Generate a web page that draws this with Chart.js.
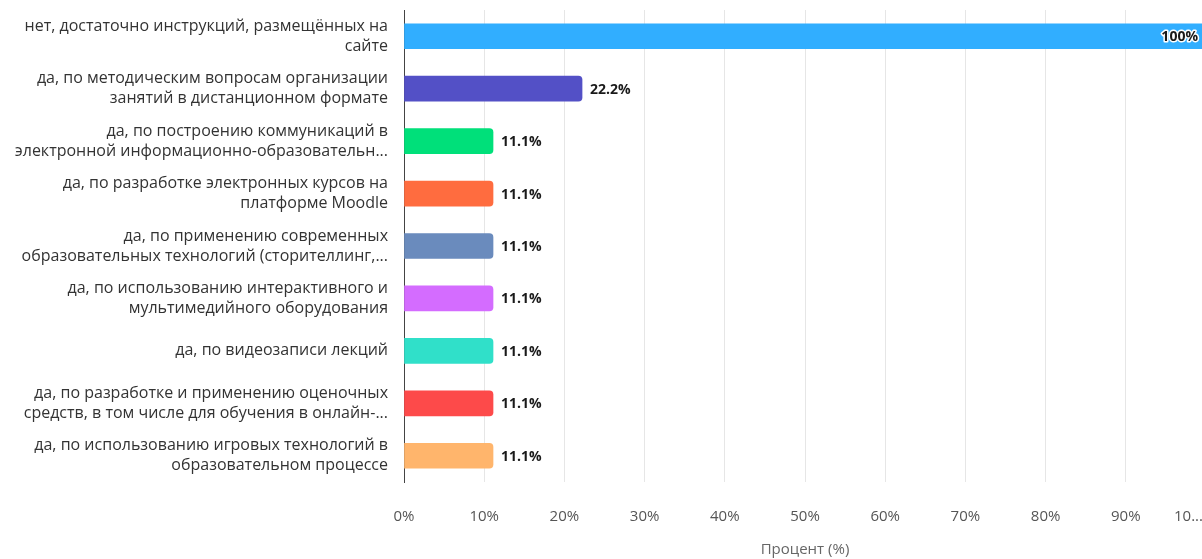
<!DOCTYPE html>
<html>
<head>
<meta charset="utf-8">
<script src="https://cdn.jsdelivr.net/npm/chart.js@4"></script>
<style>
    html, body { margin: 0; padding: 0; background: #fff; overflow: hidden; }
    .chart-box { width: 1206px; height: 559px; position: relative; }
</style>
</head>
<body>
<div class="chart-box"><canvas id="answersChart"></canvas></div>
<script>
// --- данные ---
const categories = [
    ['нет, достаточно инструкций, размещённых на', 'сайте'],
    ['да, по методическим вопросам организации', 'занятий в дистанционном формате'],
    ['да, по построению коммуникаций в', 'электронной информационно-образовательн...'],
    ['да, по разработке электронных курсов на', 'платформе Moodle'],
    ['да, по применению современных', 'образовательных технологий (сторителлинг,...'],
    ['да, по использованию интерактивного и', 'мультимедийного оборудования'],
    'да, по видеозаписи лекций',
    ['да, по разработке и применению оценочных', 'средств, в том числе для обучения в онлайн-...'],
    ['да, по использованию игровых технологий в', 'образовательном процессе']
];
const percentValues = [100, 22.2, 11.1, 11.1, 11.1, 11.1, 11.1, 11.1, 11.1];
const valueLabels = ['100%', '22.2%', '11.1%', '11.1%', '11.1%', '11.1%', '11.1%', '11.1%', '11.1%'];
const barColors = ['#31aeff', '#5350c6', '#00e07a', '#ff6c3f', '#6a8bbd', '#d46cff', '#30e0c9', '#fd4a4a', '#ffb56c'];
const xTickLabels = ['0%', '10%', '20%', '30%', '40%', '50%', '60%', '70%', '80%', '90%', '10...         '];
const xTitle = 'Процент (%)';

const FONT = "'Open Sans', 'Noto Sans', sans-serif";

// подписи значений у концов столбцов
const valueLabelPlugin = {
    id: 'valueLabels',
    afterDatasetsDraw(chart) {
        const ctx = chart.ctx;
        const meta = chart.getDatasetMeta(0);
        ctx.save();
        ctx.font = 'bold 14px ' + FONT;
        ctx.textBaseline = 'middle';
        ctx.lineJoin = 'round';
        meta.data.forEach((bar, i) => {
            const text = valueLabels[i];
            let x = bar.x + 8;
            ctx.textAlign = 'left';
            if (percentValues[i] >= 100) {
                x = chart.chartArea.right - 8;
                ctx.textAlign = 'right';
            }
            ctx.strokeStyle = '#ffffff';
            ctx.lineWidth = 3;
            ctx.strokeText(text, x, bar.y + 1);
            ctx.fillStyle = '#1a1a1a';
            ctx.fillText(text, x, bar.y + 1);
        });
        ctx.restore();
    }
};

const ctx = document.getElementById('answersChart').getContext('2d');
new Chart(ctx, {
    type: 'bar',
    data: {
        labels: categories,
        datasets: [{
            data: percentValues,
            backgroundColor: barColors,
            borderRadius: 4,
            borderSkipped: 'start',
            barThickness: 25
        }]
    },
    options: {
        indexAxis: 'y',
        responsive: true,
        maintainAspectRatio: false,
        animation: false,
        layout: { padding: { top: 10, right: 0, left: 0, bottom: 0 } },
        plugins: {
            legend: { display: false },
            tooltip: { enabled: false }
        },
        scales: {
            x: {
                min: 0,
                max: 100,
                grid: { color: '#e6e6e6', drawTicks: false },
                border: { display: false },
                ticks: {
                    stepSize: 10,
                    padding: 26,
                    color: '#555555',
                    font: { family: FONT, size: 15 },
                    maxRotation: 0,
                    callback: (v, i) => xTickLabels[i]
                },
                title: {
                    display: true,
                    text: xTitle,
                    color: '#666666',
                    font: { family: FONT, size: 15 },
                    padding: { top: 6, bottom: 0 }
                },
                afterFit(scale) {
                    scale.height = 77;
                    scale.paddingLeft = 0;
                    scale.paddingRight = 0;
                }
            },
            y: {
                grid: { display: false },
                border: { display: true, color: '#444444', width: 1 },
                ticks: {
                    padding: 8,
                    color: '#333333',
                    font: { family: FONT, size: 16, lineHeight: 1.25 },
                    autoSkip: false
                },
                afterFit(scale) {
                    scale.width = 404;
                    scale.paddingTop = 0;
                    scale.paddingBottom = 0;
                }
            }
        }
    },
    plugins: [valueLabelPlugin]
});
</script>
</body>
</html>
